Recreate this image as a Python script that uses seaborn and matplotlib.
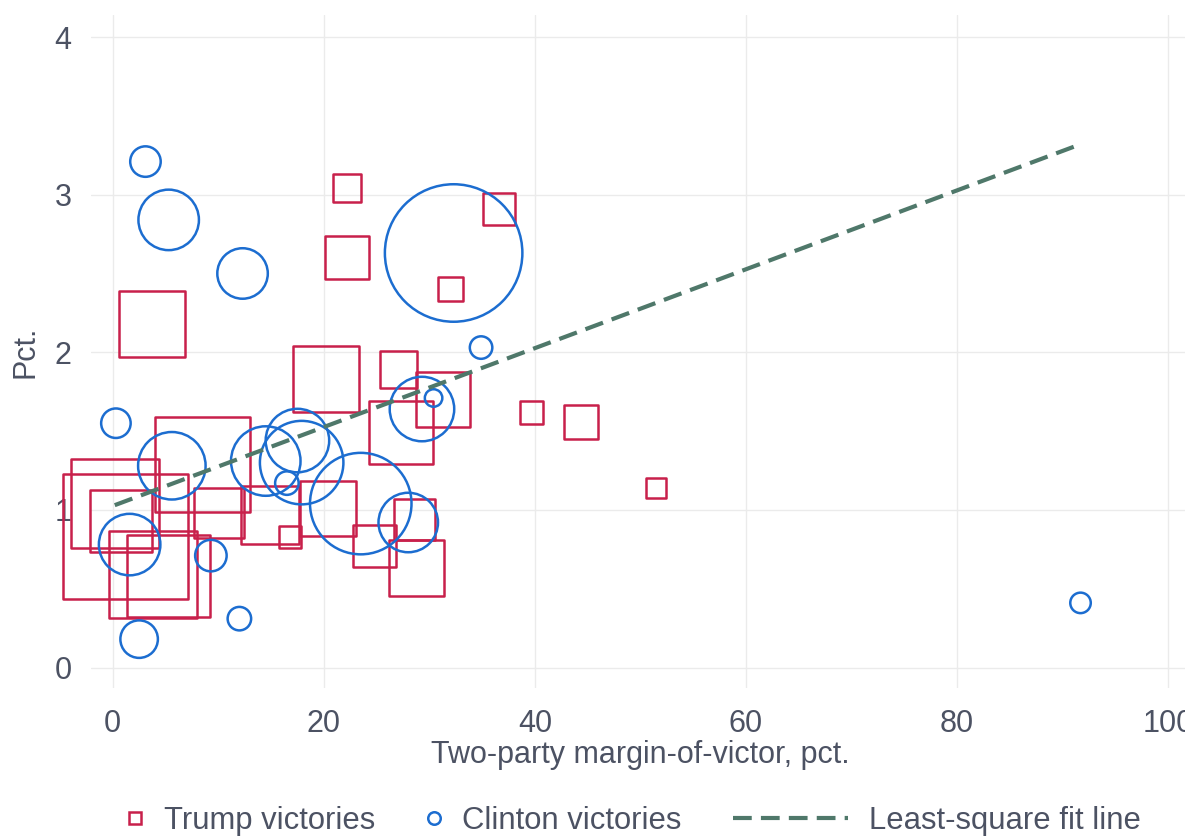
import numpy as np
import pandas as pd
import matplotlib
matplotlib.use("Agg")
import matplotlib.pyplot as plt
import seaborn as sns
from matplotlib.lines import Line2D

# ---------------- data ----------------
trump_margin = [22.2, 22.2, 36.6, 32.0, 3.7, 20.2, 27.1, 31.3, 27.3, 39.7, 44.4, 51.5,
                8.5, 0.2, 1.2, 0.8, 3.8, 5.3, 10.1, 14.9, 16.8, 20.4, 24.8, 28.6, 28.8]
trump_pct = [3.04, 2.60, 2.91, 2.40, 2.18, 1.83, 1.89, 1.70, 1.49, 1.62, 1.56, 1.14,
             1.29, 1.04, 0.83, 0.93, 0.59, 0.58, 0.98, 0.97, 0.83, 1.01, 0.77, 0.94, 0.63]
trump_weight = [30.5, 46, 35, 26.7, 68, 69, 39, 56.7, 66, 25.7, 36.3, 22.3,
                97.7, 91, 127.5, 64, 90, 85, 52.5, 60.5, 24.3, 58, 45, 44, 58]

clinton_margin = [3.1, 5.3, 12.3, 32.3, 34.9, 0.3, 5.6, 14.5, 17.5, 17.9, 16.5, 23.5,
                  29.3, 30.4, 28.0, 1.6, 9.3, 12.0, 2.5, 91.7]
clinton_pct = [3.21, 2.84, 2.50, 2.63, 2.03, 1.55, 1.28, 1.31, 1.44, 1.30, 1.17, 1.04,
               1.64, 1.71, 0.92, 0.78, 0.71, 0.31, 0.18, 0.41]
clinton_weight = [33, 63, 53, 140, 25, 32, 70, 72, 66, 86, 26, 104,
                  67, 20, 62, 64, 34, 26, 40, 23]

fit_margin = [0.19, 91.7]
fit_pct = [1.03, 3.32]

x_ticks = [0, 20, 40, 60, 80, 100]
y_ticks = [0, 1, 2, 3, 4]
legend_labels = ["Trump victories", "Clinton victories", "Least-square fit line"]
x_title = "Two-party margin-of-victor, pct."
y_title = "Pct."

# ---------------- style ----------------
RED = "#c8204b"
BLUE = "#1c6dd0"
GREEN = "#4f786a"
TXT = "#4c5263"
GRID = "#ebebeb"
FS = 22

sns.set_style("white")
plt.rcParams["font.family"] = ["Liberation Sans", "DejaVu Sans"]

W, H = 1185, 838
fig = plt.figure(figsize=(W / 100, H / 100), dpi=100)
ax = fig.add_axes([91 / W, 1 - 688 / H, 1 - 91 / W, (688 - 15) / H])


def to_s(w):
    return (0.72 * (np.asarray(w, float) - 2.5)) ** 2


trump_df = pd.DataFrame({"margin": trump_margin, "pct": trump_pct, "w": trump_weight})
clinton_df = pd.DataFrame({"margin": clinton_margin, "pct": clinton_pct, "w": clinton_weight})

sns.scatterplot(data=trump_df, x="margin", y="pct", s=to_s(trump_df["w"]), marker="s",
                color=RED, facecolor="none", edgecolor=RED, linewidth=1.8,
                ax=ax, legend=False, zorder=3, clip_on=False)
sns.scatterplot(data=clinton_df, x="margin", y="pct", s=to_s(clinton_df["w"]), marker="o",
                color=BLUE, facecolor="none", edgecolor=BLUE, linewidth=1.8,
                ax=ax, legend=False, zorder=3, clip_on=False)

sns.lineplot(x=fit_margin, y=fit_pct, ax=ax, color=GREEN, linewidth=3, legend=False, zorder=4)
fit_line = ax.lines[-1]
fit_line.set_dashes((4.5, 2.2))
fit_line.set_clip_on(False)

ax.set_xlim(-2.06, 101.6)
ax.set_ylim(-0.13, 4.14)
ax.set_xticks(x_ticks)
ax.set_xticklabels([str(t) for t in x_ticks])
ax.set_yticks(y_ticks)
ax.set_yticklabels([str(t) for t in y_ticks])
ax.tick_params(length=0, labelsize=FS, labelcolor=TXT)
ax.tick_params(axis="x", pad=15)
ax.tick_params(axis="y", pad=14)
ax.grid(True, color=GRID, linewidth=1.0)
ax.set_axisbelow(True)
for sp in ax.spines.values():
    sp.set_visible(False)
ax.set_xlabel("")
ax.set_ylabel("")

fig.text(640 / W, 1 - 763 / H, x_title, ha="center", va="baseline", fontsize=FS, color=TXT)
fig.text(25 / W, 1 - 352 / H, y_title, ha="center", va="center", rotation=90,
         fontsize=FS, color=TXT)

# ---------------- legend ----------------
h_trump = Line2D([], [], marker="s", linestyle="none", markersize=9,
                 markerfacecolor="none", markeredgecolor=RED, markeredgewidth=1.8)
h_clinton = Line2D([], [], marker="o", linestyle="none", markersize=9,
                   markerfacecolor="none", markeredgecolor=BLUE, markeredgewidth=1.8)
h_fit = Line2D([], [], color=GREEN, linewidth=3, dashes=(4.5, 2.2))

legend_y = 1 - 821 / H
specs = [
    (h_trump, legend_labels[0], 124, 0.74, 0.55),
    (h_clinton, legend_labels[1], 422.5, 0.74, 0.52),
    (h_fit, legend_labels[2], 732.5, 3.74, 0.68),
]
for handle, label, x0, hl, hp in specs:
    fig.legend(handles=[handle], labels=[label], loc="center left",
               bbox_to_anchor=(x0 / W, legend_y), frameon=False, borderpad=0,
               borderaxespad=0, handlelength=hl, handletextpad=hp,
               fontsize=22.3, labelcolor=TXT)

fig.savefig("out.png", dpi=100)
